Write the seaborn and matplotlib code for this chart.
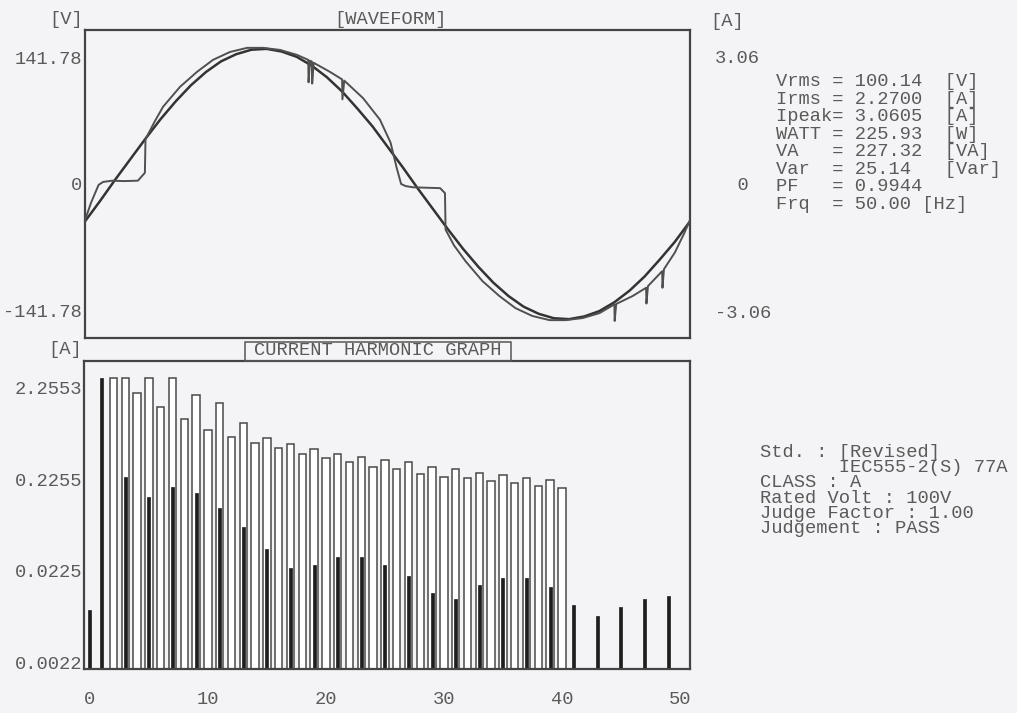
import numpy as np
import pandas as pd
import matplotlib
matplotlib.use("Agg")
import matplotlib.pyplot as plt
from matplotlib.patches import Rectangle
from matplotlib.ticker import MultipleLocator, NullLocator
import seaborn as sns

# ---- waveform window (one 50 Hz period, time in ms) ----
volt_t = [0.0, 0.5, 1.0, 1.5, 2.0, 2.5, 3.0, 3.5, 4.0, 4.5, 5.0, 5.5, 6.0, 6.5,
          7.0, 7.5, 8.0, 8.5, 9.0, 9.5, 10.0, 10.5, 11.0, 11.5, 12.0, 12.5,
          13.0, 13.5, 14.0, 14.5, 15.0, 15.5, 16.0, 16.5, 17.0, 17.5, 18.0,
          18.5, 19.0, 19.5, 20.0]
volt_v = [-42, -19, 5, 28, 51, 73, 93, 111, 126, 138, 146, 151, 152, 149,
          143, 133, 120, 104, 85, 65, 42, 19, -5, -28, -51, -73, -93, -111,
          -126, -138, -146, -151, -152, -149, -143, -133, -120, -104, -85,
          -65, -42]

curr_t = [0.00, 0.20, 0.45, 0.60, 0.90, 1.30, 1.75, 1.98, 2.00, 2.30, 2.58,
          3.14, 3.70, 4.23, 4.79, 5.36, 5.88, 6.45, 7.01, 7.38, 7.39, 7.44,
          7.50, 7.51, 7.56, 8.10, 8.50, 8.51, 8.57, 8.66, 9.19, 9.75, 10.10,
          10.30, 10.45, 10.60, 10.85, 11.30, 11.74, 11.90, 11.92, 12.20,
          12.58, 13.14, 13.70, 14.23, 14.79, 15.36, 15.88, 16.45, 17.01,
          17.50, 17.51, 17.56, 18.10, 18.55, 18.56, 18.61, 19.08, 19.09,
          19.14, 19.50, 19.80, 20.00]
curr_a = [-0.87, -0.45, -0.02, 0.05, 0.08, 0.07, 0.08, 0.27, 1.08, 1.50, 1.86,
          2.34, 2.70, 2.99, 3.18, 3.28, 3.28, 3.23, 3.11, 2.99, 2.45, 2.97,
          2.95, 2.42, 2.92, 2.70, 2.52, 2.04, 2.49, 2.43, 2.07, 1.55, 1.00,
          0.40, 0.00, -0.05, -0.08, -0.09, -0.10, -0.22, -1.10, -1.48,
          -1.86, -2.34, -2.70, -2.99, -3.18, -3.28, -3.28, -3.23, -3.11,
          -2.90, -3.30, -2.89, -2.70, -2.50, -2.88, -2.46, -2.10, -2.50,
          -2.05, -1.65, -1.20, -0.87]

# ---- current harmonics [A] ----
limit_n = list(range(2, 41))
limit_a = [2.90, 2.90, 1.99, 2.90, 1.40, 2.90, 1.03, 1.89, 0.784, 1.55, 0.657,
           0.935, 0.565, 0.641, 0.498, 0.551, 0.428, 0.486, 0.388, 0.428,
           0.350, 0.397, 0.309, 0.368, 0.294, 0.350, 0.259, 0.309, 0.240,
           0.294, 0.234, 0.266, 0.217, 0.252, 0.207, 0.234, 0.192, 0.223,
           0.182]
meas_n = [0, 1, 3, 5, 7, 9, 11, 13, 15, 17, 19, 21, 23, 25, 27, 29, 31, 33,
          35, 37, 39, 41, 43, 45, 47, 49]
meas_a = [0.0085, 2.90, 0.240, 0.145, 0.187, 0.161, 0.110, 0.068, 0.039,
          0.024, 0.026, 0.032, 0.032, 0.026, 0.020, 0.013, 0.011, 0.016,
          0.019, 0.019, 0.015, 0.0096, 0.0073, 0.0091, 0.011, 0.012]

harm_ticks = [2.2553, 0.22553, 0.022553, 0.0022553]
harm_labels = ["2.2553", "0.2255", "0.0225", "0.0022"]

meter_lines = ["Vrms = 100.14  [V]", "Irms = 2.2700  [A]", "Ipeak= 3.0605  [A]",
               "WATT = 225.93  [W]", "VA   = 227.32  [VA]", "Var  = 25.14   [Var]",
               "PF   = 0.9944", "Frq  = 50.00 [Hz]"]
std_lines = ["Std. : [Revised]", "       IEC555-2(S) 77A", "CLASS : A",
             "Rated Volt : 100V", "Judge Factor : 1.00", "Judgement : PASS"]

W, H = 1017, 713
PAPER = "#f4f4f6"
TXT = "#5a5a5a"
FS = 13.5

sns.set_style("white")
plt.rcParams["font.family"] = ["Liberation Mono", "DejaVu Sans Mono"]


def fx(px):
    return px / W


def fy(py):
    return 1 - py / H


fig = plt.figure(figsize=(W / 100, H / 100), dpi=100, facecolor=PAPER)

# ---------------- waveform ----------------
ax_w = fig.add_axes([fx(85), fy(338), fx(690) - fx(85), fy(30) - fy(338)])
ax_w.set_facecolor(PAPER)
sns.lineplot(x=volt_t, y=volt_v, ax=ax_w, color="#333333", linewidth=1.8,
             estimator=None, sort=False)
ax_w.set_xlim(0, 20)
ax_w.set_ylim(-173.2, 173.2)
ax_w.set_xticks([])
ax_w.set_yticks([141.78, 0, -141.78], ["141.78", "0", "-141.78"])
ax_w.tick_params(axis="y", length=0, pad=2, labelsize=FS, labelcolor=TXT)

ax_i = ax_w.twinx()
sns.lineplot(x=curr_t, y=curr_a, ax=ax_i, color="#505050", linewidth=1.4,
             estimator=None, sort=False)
ax_i.set_ylim(-3.71, 3.71)
ax_i.set_yticks([3.06, 0, -3.06], ["3.06", "  0", "-3.06"])
ax_i.tick_params(axis="y", length=0, pad=18, labelsize=FS, labelcolor=TXT)
for s in ax_i.spines.values():
    s.set_visible(False)
for s in ax_w.spines.values():
    s.set_color("#444444")
    s.set_linewidth(1.6)

# ---------------- harmonics ----------------
ax_h = fig.add_axes([fx(84), fy(669), fx(690) - fx(84), fy(361) - fy(669)])
ax_h.set_facecolor(PAPER)
lim_df = pd.DataFrame({"order": limit_n, "amps": limit_a})
meas_df = pd.DataFrame({"order": meas_n, "amps": meas_a})
sns.barplot(data=lim_df, x="order", y="amps", native_scale=True, width=0.62,
            color="white", saturation=1, edgecolor="#4a4a4a", linewidth=1.1,
            errorbar=None, ax=ax_h)
sns.barplot(data=meas_df, x="order", y="amps", native_scale=True, width=0.26,
            color="#1e1e1e", saturation=1, edgecolor="#1e1e1e", linewidth=0.5,
            errorbar=None, ax=ax_h)
ax_h.set_yscale("log")
ax_h.set_ylim(0.00191, 4.45)
ax_h.set_xlim(-0.5, 50.85)
ax_h.set_xlabel("")
ax_h.set_ylabel("")
ax_h.set_xticks(range(0, 51, 10))
ax_h.xaxis.set_minor_locator(MultipleLocator(2))
ax_h.set_yticks(harm_ticks, harm_labels)
ax_h.yaxis.set_minor_locator(NullLocator())
ax_h.tick_params(axis="x", which="major", direction="out", length=5, width=1.2,
                 color="#444444", pad=11, labelsize=FS, labelcolor=TXT)
ax_h.tick_params(axis="x", which="minor", direction="out", length=2.5,
                 width=1, color="#444444")
ax_h.tick_params(axis="y", length=0, pad=1.5, labelsize=FS, labelcolor=TXT)
for s in ax_h.spines.values():
    s.set_color("#444444")
    s.set_linewidth(1.6)

# ---------------- captions ----------------
fig.text(fx(66), fy(20), "[V]", ha="center", va="center", fontsize=FS, color=TXT)
fig.text(fx(727), fy(22), "[A]", ha="center", va="center", fontsize=FS, color=TXT)
fig.text(fx(65), fy(350), "[A]", ha="center", va="center", fontsize=FS, color=TXT)
fig.text(fx(391), fy(19), "[WAVEFORM]", ha="center", va="center", fontsize=FS,
         color=TXT)
fig.text(fx(378), fy(351), "CURRENT HARMONIC GRAPH", ha="center", va="center",
         fontsize=FS, color=TXT)
fig.patches.append(Rectangle((fx(245), fy(361)), fx(511) - fx(245),
                             fy(342) - fy(361), transform=fig.transFigure,
                             fill=False, edgecolor="#555555", linewidth=1.1))

# instrument read-outs, one text block each
fig.text(fx(776), fy(73), "\n".join(meter_lines), ha="left", va="top",
         fontsize=FS, color=TXT, linespacing=1.04)
fig.text(fx(760), fy(444), "\n".join(std_lines), ha="left", va="top",
         fontsize=FS, color=TXT, linespacing=0.86)

fig.savefig("out.png", dpi=100, facecolor=PAPER)
